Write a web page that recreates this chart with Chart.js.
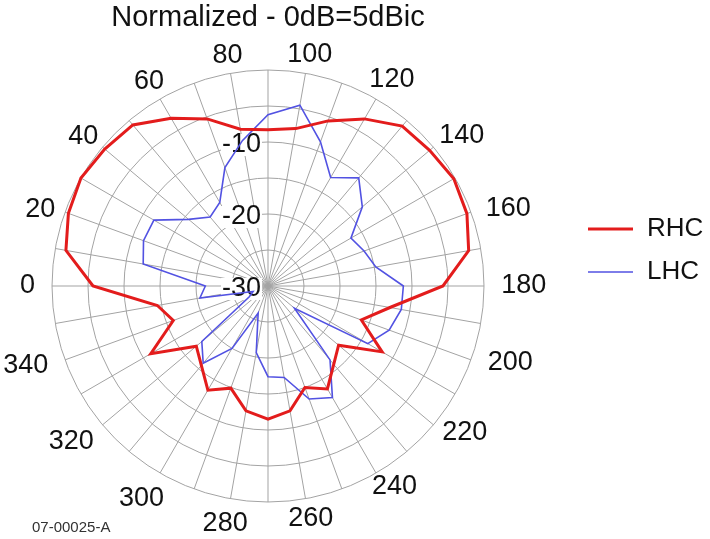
<!DOCTYPE html>
<html>
<head>
<meta charset="utf-8">
<script src="https://cdn.jsdelivr.net/npm/chart.js@4.4.1/dist/chart.umd.min.js"></script>
<style>
  html, body { margin: 0; padding: 0; background: #fff; }
  #wrap { width: 710px; height: 539px; position: relative; }
</style>
</head>
<body>
<div id="wrap"><canvas id="chart"></canvas></div>
<script>
// azimuth in degrees, 0 at the left, going clockwise
const angles = ['0', '10', '20', '30', '40', '50', '60', '70', '80', '90',
  '100', '110', '120', '130', '140', '150', '160', '170', '180', '190',
  '200', '210', '220', '230', '240', '250', '260', '270', '280', '290',
  '300', '310', '320', '330', '340', '350'];
const shownAngles = ['0', '20', '40', '60', '80', '100', '120', '140', '160',
  '180', '200', '220', '240', '260', '280', '300', '320', '340'];

// normalized gain, dB
const rhc = [-5.7, -1.5, -0.5, 0.0, -0.4, -0.8, -3.1, -5.3, -7.9, -8.3,
  -7.8, -5.6, -3.2, -1.0, -0.7, -0.2, -0.6, -1.7, -5.7, -12.8,
  -16.2, -11.7, -17.2, -15.8, -13.5, -15.0, -12.4, -11.5, -12.4, -14.9,
  -13.3, -15.6, -17.0, -11.2, -16.0, -14.4];
const lhc = [-21.3, -12.4, -11.6, -11.7, -15.6, -17.5, -16.6, -12.5, -9.5, -6.2,
  -4.5, -8.7, -12.6, -10.4, -12.9, -16.7, -15.8, -14.8, -11.2, -11.2,
  -12.1, -14.0, -25.2, -16.6, -12.1, -13.3, -17.1, -17.4, -20.6, -26.0,
  -20.0, -16.0, -18.0, -27.0, -27.8, -20.4];
const dbTicks = [-30, -20, -10];

const FONT = '"Liberation Sans", Arial, sans-serif';

// tick values, angle labels, legend and drawing number
const polarText = {
  id: 'polarText',
  beforeDatasetsDraw(chart) {
    const s = chart.scales.r;
    const ctx = chart.ctx;
    ctx.save();
    ctx.font = '27px ' + FONT;
    ctx.textAlign = 'right';
    ctx.textBaseline = 'middle';
    dbTicks.forEach(v => {
      const txt = String(v);
      const x = s.xCenter - 7;
      const y = s.yCenter - s.getDistanceFromCenterForValue(v) + 3;
      const w = ctx.measureText(txt).width;
      ctx.fillStyle = '#fff';
      ctx.fillRect(x - w - 1, y - 11, w + 2, 22);
      ctx.fillStyle = '#111';
      ctx.fillText(txt, x, y);
    });
    ctx.restore();
  },
  afterDraw(chart) {
    const s = chart.scales.r;
    const ctx = chart.ctx;
    ctx.save();
    ctx.font = '27px ' + FONT;
    ctx.textAlign = 'center';
    ctx.textBaseline = 'middle';
    ctx.fillStyle = '#111';
    angles.forEach((a, i) => {
      if (!shownAngles.includes(a)) return;
      const w = ctx.measureText(a).width;
      const c = s.getPointPosition(i, 1);
      const ux = (c.x - s.xCenter), uy = (c.y - s.yCenter);
      const gap = 11 - 6 * Math.max(0, -uy);
      const d = s.drawingArea + gap + Math.abs(ux) * w / 2 + Math.abs(uy) * 10;
      const p = s.getPointPosition(i, d);
      // the original labels are pulled a bit towards the horizontal on the sides
      let fy;
      if (ux > 0 && uy < 0) fy = 1 - 0.11 * ux ** 3;
      else if (ux > 0) fy = 1 - 0.12 * ux;
      else fy = 1 - 0.1 * ux ** 4;
      const fx = (ux < 0 && uy < 0) ? 1 : 1.025;
      ctx.fillText(a, s.xCenter + (p.x - s.xCenter) * fx, s.yCenter + (p.y - s.yCenter) * fy);
    });

    // legend
    ctx.textAlign = 'left';
    ctx.font = '26px ' + FONT;
    chart.data.datasets.forEach((ds, k) => {
      const y = 229 + k * 43;
      ctx.strokeStyle = ds.borderColor;
      ctx.lineWidth = ds.borderWidth;
      ctx.beginPath();
      ctx.moveTo(588, y);
      ctx.lineTo(633, y);
      ctx.stroke();
      ctx.fillStyle = '#111';
      ctx.fillText(ds.label, 647, y);
    });

    ctx.font = '15px ' + FONT;
    ctx.fillStyle = '#333';
    ctx.fillText('07-00025-A', 32, 528);
    ctx.restore();
  }
};

new Chart(document.getElementById('chart'), {
  type: 'radar',
  data: {
    labels: angles,
    datasets: [
      { label: 'RHC', data: rhc, borderColor: '#e31c1c', borderWidth: 3, fill: false },
      { label: 'LHC', data: lhc, borderColor: '#5252e2', borderWidth: 1.6, fill: false }
    ]
  },
  options: {
    responsive: true,
    maintainAspectRatio: false,
    animation: false,
    layout: { padding: { top: 0, left: 0, right: 174, bottom: 37 } },
    elements: {
      line: { tension: 0 },
      point: { radius: 0, hoverRadius: 0 }
    },
    scales: {
      r: {
        min: -30,
        max: 0,
        startAngle: -90,
        ticks: { display: false, stepSize: 5 },
        pointLabels: { display: false },
        grid: { color: '#a3a3a3', lineWidth: 1, circular: true },
        angleLines: { color: '#a3a3a3', lineWidth: 1 }
      }
    },
    plugins: {
      legend: { display: false },
      tooltip: { enabled: false },
      title: {
        display: true,
        text: 'Normalized - 0dB=5dBic',
        color: '#111',
        font: { family: FONT, size: 29, weight: 'normal' },
        padding: { top: 1, bottom: 34.2 }
      }
    }
  },
  plugins: [polarText]
});
</script>
</body>
</html>
